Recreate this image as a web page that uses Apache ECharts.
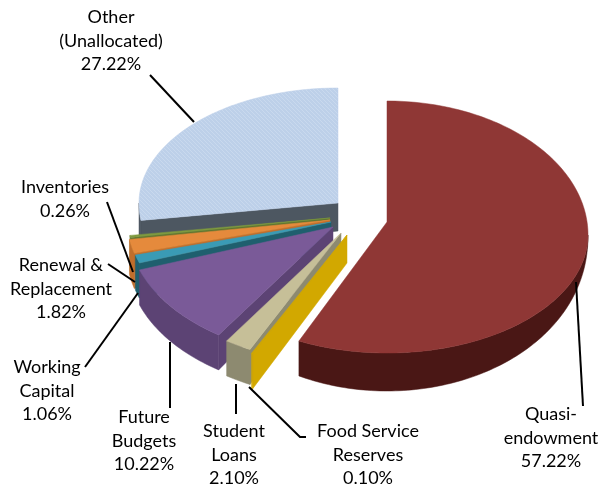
<!DOCTYPE html>
<html>
<head>
<meta charset="utf-8">
<style>html,body{margin:0;padding:0;background:#fff}#main{width:604px;height:489px}</style>
<script src="https://cdn.jsdelivr.net/npm/echarts@6/dist/echarts.min.js"></script>
</head>
<body>
<div id="main"></div>
<script>
// back to front, going anticlockwise from 12 o'clock
var categories = ['Other (Unallocated)','Inventories','Renewal & Replacement','Working Capital','Future Budgets','Student Loans','Food Service Reserves','Quasi-endowment']
var values = [27.22,0.26,1.82,1.06,10.22,2.10,0.10,57.22]

// exploded slices: apex x,y then radii x, y up, y down, then how far the ellipse centre sits under the apex
var geom = [
	[338,203,199,115,125,0],
	[330,218,202,115,125,0],
	[330,220,203,115,125,0],
	[331,222,203,115,124,0],
	[333,227,205,118,130,0],
	[341,233,205,118,130,0],
	[347,235,215,118,132,0],
	[387,222,201,134,118,13]
]
var topColors = ['#bccfe8','#7f9a3f','#e58a3c','#3a9bb5','#7a5a98','#c6bf98','#d2a800','#8f3735']
var sideColors = ['#4d5761','#5f7530','#c06e2c','#1f5f6e','#5c4374','#8d8a70','#d2a800','#4a1715']
var hasWall = [true,true,true,true,true,true,true,false]
var depth = 35

var labels = [
	{lines:['Other','(Unallocated)','27.22%'],x:111,y:17,line:[[150,75],[194,122]]},
	{lines:['Inventories','0.26%'],x:65,y:187,line:[[107,202],[133,272]]},
	{lines:['Renewal &','Replacement','1.82%'],x:61,y:265,line:[[108,264],[135,282]]},
	{lines:['Working','Capital','1.06%'],x:47,y:367,line:[[85,367],[138,293]]},
	{lines:['Future','Budgets','10.22%'],x:144,y:417,line:[[170,342],[170,408]]},
	{lines:['Student','Loans','2.10%'],x:234,y:431,line:[[236,384],[236,414]]},
	{lines:['Food Service','Reserves','0.10%'],x:368,y:431,line:[[249,387],[300,437],[306,437]]},
	{lines:['Quasi-','endowment','57.22%'],x:551,y:414,line:[[576,282],[583,406]]}
]

var total = 0
values.forEach(function(v){ total += v })

// the fine hatch Excel leaves on the pale slice
var hatch = document.createElement('canvas')
hatch.width = 4
hatch.height = 4
var hc = hatch.getContext('2d')
hc.fillStyle = '#bdd0e9'
hc.fillRect(0,0,4,4)
hc.fillStyle = '#c9d9ee'
hc.fillRect(0,0,1,1)
hc.fillRect(1,1,1,1)
hc.fillRect(2,2,1,1)
hc.fillRect(3,3,1,1)

function pt(g,a,drop){
	var c = Math.cos(a)
	return [g[0]+g[2]*Math.sin(a), g[1]+g[5]-(c>0?g[3]:g[4])*c+(drop||0)]
}

// the big slice's rim gets thinner towards its right end
function rimDrop(g,a){
	if(g[5]===0) return depth
	return 38*Math.pow(Math.abs(Math.cos(a)),0.8)
}

function renderSlice(params,api){
	var i = params.dataIndex
	var g = geom[i]
	var before = 0
	for(var k=0;k<i;k++) before += values[k]
	var a1 = 2*Math.PI*(1-before/total)
	var a0 = a1-2*Math.PI*api.value(0)/total
	var kids = []

	// radial wall on the lower edge of the slice
	if(hasWall[i]){
		var p = pt(g,a0)
		kids.push({type:'polygon',shape:{points:[[g[0],g[1]],p,[p[0],p[1]+depth],[g[0],g[1]+depth*0.8]]},
			style:{fill:sideColors[i],stroke:sideColors[i],lineWidth:0.5}})
	}

	// outer rim, only the part that faces the front
	var from = Math.max(a0,Math.PI/2), to = Math.min(a1,Math.PI*1.5)
	if(to>from){
		var rim = [], n = Math.ceil((to-from)/0.02), a
		for(var s=0;s<=n;s++) rim.push(pt(g,from+(to-from)*s/n))
		for(s=n;s>=0;s--){
			a = from+(to-from)*s/n
			rim.push(pt(g,a,rimDrop(g,a)))
		}
		kids.push({type:'polygon',shape:{points:rim},style:{fill:sideColors[i],stroke:sideColors[i],lineWidth:0.5}})
	}

	// top face
	var top = [[g[0],g[1]]]
	var m = Math.max(2,Math.ceil((a1-a0)/0.02))
	for(s=0;s<=m;s++) top.push(pt(g,a0+(a1-a0)*s/m))
	var fill = i===0 ? {image:hatch,repeat:'repeat'} : topColors[i]
	kids.push({type:'polygon',shape:{points:top},style:{fill:fill,stroke:topColors[i],lineWidth:0.5}})

	// leader and label
	var lb = labels[i]
	kids.push({type:'polyline',z2:50,shape:{points:lb.line},style:{fill:null,stroke:'#000',lineWidth:2}})
	lb.lines.forEach(function(t,j){
		kids.push({type:'text',z2:60,style:{text:t,x:lb.x,y:lb.y+j*23.7,align:'center',verticalAlign:'middle',
			font:'18px Lato, "Open Sans", sans-serif',fill:'#000'}})
	})
	return {type:'group',children:kids}
}

var chart = echarts.init(document.getElementById('main'))
chart.setOption({
	animation:false,
	backgroundColor:'#fff',
	series:[{
		type:'custom',
		coordinateSystem:'none',
		renderItem:renderSlice,
		data:values.map(function(v,i){ return {name:categories[i],value:[v]} })
	}]
})
</script>
</body>
</html>
